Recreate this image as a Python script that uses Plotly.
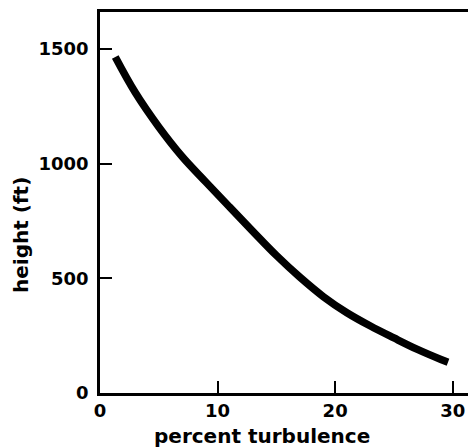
import plotly.graph_objects as go

turbulence = [1.3, 3.0, 5.0, 7.0, 9.0, 11.0, 13.0, 15.0, 17.0, 19.0, 21.0, 23.0, 25.0, 27.0, 29.0, 29.6]
height_ft = [1465, 1310, 1160, 1030, 920, 812, 705, 600, 505, 420, 350, 292, 240, 190, 146, 134]

x_ticks = [0, 10, 20, 30]
y_ticks = [0, 500, 1000, 1500]

font = dict(family="DejaVu Sans", size=18, color="black", weight="bold")
title_font = dict(family="DejaVu Sans", size=20, color="black", weight="bold")

fig = go.Figure()
fig.add_trace(go.Scatter(
    x=turbulence, y=height_ft, mode="lines",
    line=dict(color="black", width=7.5, shape="spline", smoothing=1),
    showlegend=False, hoverinfo="skip",
))

fig.update_layout(
    width=468, height=447,
    margin=dict(l=100, r=0, t=12, b=54),
    paper_bgcolor="white", plot_bgcolor="white",
    font=font,
    xaxis=dict(
        range=[0, 31.3], tickvals=x_ticks, ticktext=[str(v) for v in x_ticks],
        showgrid=False, zeroline=False, showline=True, linecolor="black", linewidth=2.5,
        mirror=True, ticks="inside", ticklen=12, tickwidth=2, tickcolor="black",
        tickfont=font,
    ),
    yaxis=dict(
        range=[0, 1661], tickvals=y_ticks, ticktext=[str(v) for v in y_ticks],
        showgrid=False, zeroline=False, showline=True, linecolor="black", linewidth=2.5,
        ticks="inside", ticklen=12, tickwidth=2, tickcolor="black",
        tickfont=font, ticklabelstandoff=5,
    ),
    annotations=[
        dict(text="percent turbulence", xref="paper", yref="paper",
             x=(262 - 100) / 368, y=-(436 - 393) / 381, xanchor="center", yanchor="middle",
             showarrow=False, font=title_font),
        dict(text="height (ft)", xref="paper", yref="paper",
             x=-(100 - 21) / 368, y=(393 - 235) / 381, xanchor="center", yanchor="middle",
             textangle=-90, showarrow=False, font=title_font),
    ],
)

fig.write_html("out.html")
